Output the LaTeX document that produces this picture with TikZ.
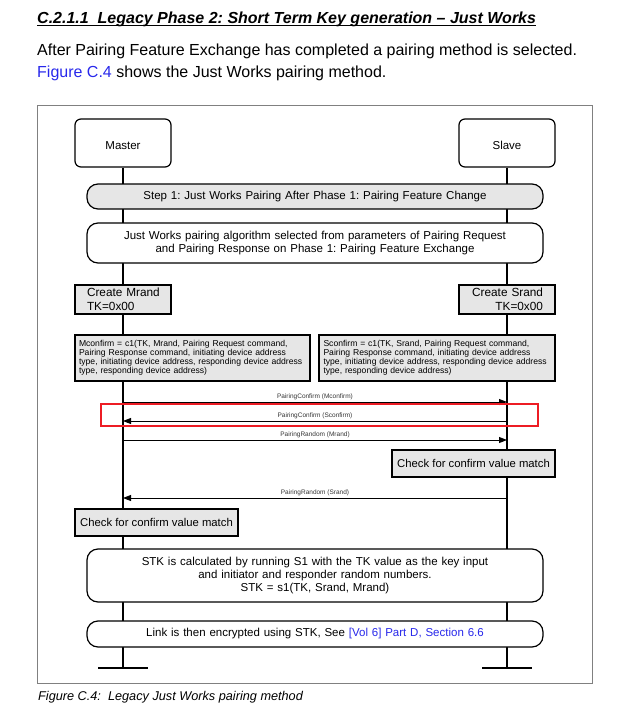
\documentclass[tikz,border=0pt]{standalone}
\usepackage{fontspec}
\setmainfont{Liberation Sans}
\usepackage{tikz}
\usetikzlibrary{arrows.meta,backgrounds}
\definecolor{boxgray}{RGB}{230,230,230}
\definecolor{linkblue}{RGB}{40,40,235}
\definecolor{markred}{RGB}{237,28,36}
\newcommand{\fsz}[2]{\fontsize{#1}{#2}\selectfont}
\frenchspacing
\tikzset{
x=1pt, y=-1pt, % one unit is one pixel of the page, y runs down
actor/.style={draw, line width=1.2pt, rounded corners=6pt, minimum width=96pt, minimum height=48pt, text height=12pt, text depth=0pt, font=\fsz{11.5}{14}}, % Master and Slave
phase/.style={draw, line width=1.2pt, rounded corners=11pt, minimum width=456pt, text width=440pt, align=center, font=\fsz{11.5}{13}}, % boxes across both lifelines
procbox/.style={draw, line width=1.2pt, fill=boxgray, inner sep=0pt, font=\fsz{11.8}{14}}, % local steps
calcbox/.style={procbox, minimum height=46pt, text width=227pt, align=left, font=\fsz{8.6}{9}}, % confirm values
msg/.style={line width=0.9pt, -{Triangle[length=8pt,width=6pt]}}, % messages
msgtext/.style={font=\fsz{6.5}{8}, text=black!80, above, inner sep=1.5pt},
lifeline/.style={line width=1.1pt},
endbar/.style={line width=2.2pt},
}

\begin{document}
\begin{tikzpicture}
\useasboundingbox (0,0) rectangle (630,706);
% text round the figure
\node[anchor=base west, inner sep=0pt, font=\bfseries\itshape\fsz{16}{18}] (title) at (37,23.5) {C.2.1.1\ \ Legacy Phase 2: Short Term Key generation -- Just Works};
\draw[line width=1.2pt] ([yshift=-2.3pt]title.base west) -- ([yshift=-2.3pt]title.base east);
\node[anchor=base west, inner sep=0pt, font=\fsz{16}{19}] (para1) at (37,56) {After Pairing Feature Exchange has completed a pairing method is selected.};
\node[anchor=base west, inner sep=0pt, font=\fsz{16}{19}] (para2) at (37,78) {\textcolor{linkblue}{Figure C.4} shows the Just Works pairing method.};
\node[anchor=base west, inner sep=0pt, font=\itshape\fsz{12.7}{15}] (caption) at (38,700.5) {Figure C.4:\ \ Legacy Just Works pairing method};
\draw[gray, line width=1pt] (37.5,106) rectangle (592,683);

% devices
\node[actor] (master) at (123,143) {Master};
\node[actor] (slave) at (507,143) {Slave};
\coordinate (mend) at (123,668);
\coordinate (send) at (507,668);

% phases
\node[phase, fill=boxgray, minimum height=25pt] (step) at (315,196.5) {Step 1: Just Works Pairing After Phase 1: Pairing Feature Change};
\node[phase, fill=white, minimum height=40pt] (select) at (315,243) {Just Works pairing algorithm selected from parameters of Pairing Request\\ and Pairing Response on Phase 1: Pairing Feature Exchange};

\node[procbox, minimum width=96pt, minimum height=29pt, text width=72pt, align=left] (mrand) at (123,299.5) {Create~Mrand\\TK=0x00};
\node[procbox, minimum width=96pt, minimum height=29pt, text width=72pt, align=right] (srand) at (507,299.5) {Create~Srand\\TK=0x00};

\node[calcbox, minimum width=235pt] (mconf) at (192.5,358) {Mconfirm = c1(TK, Mrand, Pairing Request command,\\ Pairing Response command, initiating device address\\ type, initiating device address, responding device address\\ type, responding device address)};
\node[calcbox, minimum width=236pt] (sconf) at (437,358) {Sconfirm = c1(TK, Srand, Pairing Request command,\\ Pairing Response command, initiating device address\\ type, initiating device address, responding device address\\ type, responding device address)};

% message ends on the lifelines
\foreach \n/\y in {a/402, b/421, c/440, d/498} {
  \coordinate (m\n) at (123,\y);
  \coordinate (s\n) at (507,\y);
}
\draw[msg] (ma) -- node[msgtext] {PairingConfirm (Mconfirm)} (sa);
\draw[msg] (sb) -- node[msgtext] {PairingConfirm (Sconfirm)} (mb);
\draw[msg] (mc) -- node[msgtext] {PairingRandom (Mrand)} (sc);
\node[procbox, minimum width=163pt, minimum height=27pt, font=\fsz{11.3}{14}] (scheck) at (473.5,463.5) {Check for confirm value match};
\draw[msg] (sd) -- node[msgtext] {PairingRandom (Srand)} (md);
\node[procbox, minimum width=163pt, minimum height=27pt, font=\fsz{11.3}{14}] (mcheck) at (156.5,522.5) {Check for confirm value match};

\node[phase, fill=white, minimum height=53pt] (stk) at (315,575.5) {STK is calculated by running S1 with the TK value as the key input\\ and initiator and responder random numbers.\\ STK = s1(TK, Srand, Mrand)};
\node[phase, fill=white, minimum height=26pt] (link) at (315,634) {Link is then encrypted using STK, See \textcolor{linkblue}{[Vol 6] Part D, Section 6.6}};

% highlight
\draw[markred, line width=2.6pt] (101,404) rectangle (538,426);

% lifelines behind the boxes
\begin{pgfonlayer}{background}
\draw[lifeline] (master) -- (mend);
\draw[lifeline] (slave) -- (send);
\end{pgfonlayer}
\draw[endbar] ([xshift=-25pt]mend) -- ([xshift=25pt]mend);
\draw[endbar] ([xshift=-25pt]send) -- ([xshift=25pt]send);
\end{tikzpicture}
\end{document}
